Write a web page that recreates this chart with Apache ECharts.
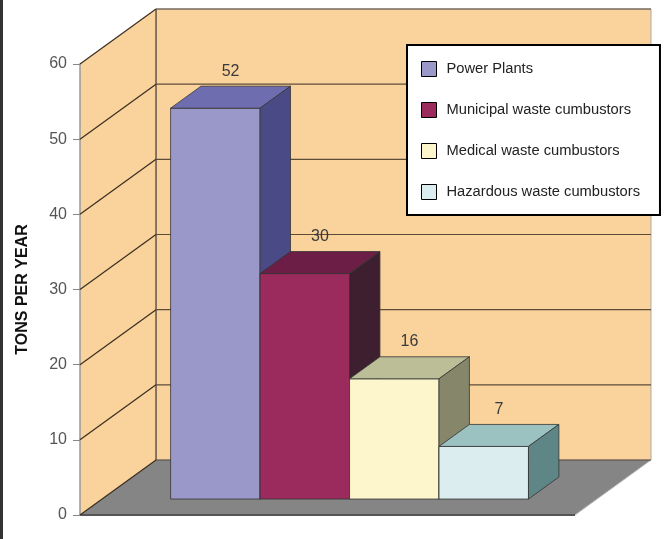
<!DOCTYPE html>
<html>
<head>
<meta charset="utf-8">
<script src="https://cdn.jsdelivr.net/npm/echarts@6/dist/echarts.min.js"></script>
<style>
  html, body { margin: 0; padding: 0; background: #fff; }
  #chart { width: 670px; height: 539px; }
</style>
</head>
<body>
<div id="chart"></div>
<script>
// data
const categories = ['Emissions'];
const seriesNames = ['Power Plants', 'Municipal waste cumbustors', 'Medical waste cumbustors', 'Hazardous waste cumbustors'];
const seriesValues = [52, 30, 16, 7];
const yTicks = [0, 10, 20, 30, 40, 50, 60];

const frontColors = ['#9a98c9', '#9b2a5d', '#fdf6cc', '#dcedf0'];
const topColors = ['#6e6db0', '#6c1e46', '#bcbe98', '#9cc1c1'];
const sideColors = ['#4a4a86', '#3d1f30', '#85866a', '#5f8686'];

// 3D box depth (px) and where the bars sit inside it
const DEPTH = [76, -55];
const BAR_FRONT = 0.29, BAR_BACK = 0.69;
const GROUP = 0.723;
const FONT = "'Liberation Sans', Arial, sans-serif";

const chart = echarts.init(document.getElementById('chart'), null, { renderer: 'canvas' });

// walls + floor
function frameItem(params, api) {
    const cs = params.coordSys;
    const y0 = api.coord([0, yTicks[0]])[1];
    const yTop = api.coord([0, yTicks[yTicks.length - 1]])[1];
    const [dx, dy] = DEPTH;
    const xl = cs.x, xr = cs.x + cs.width;
    return {
        type: 'group',
        children: [
            { type: 'polygon', shape: { points: [[xl + dx, yTop + dy], [xr + dx, yTop + dy], [xr + dx, y0 + dy], [xl + dx, y0 + dy]] },
              style: { fill: '#f9d29c', stroke: '#aaa', lineWidth: 1 } },
            { type: 'polygon', shape: { points: [[xl, y0], [xl, yTop], [xl + dx, yTop + dy], [xl + dx, y0 + dy]] },
              style: { fill: '#f9d29c', stroke: null } },
            { type: 'polygon', shape: { points: [[xl, y0], [xr, y0], [xr + dx, y0 + dy], [xl + dx, y0 + dy]] },
              style: { fill: '#858585', stroke: null } },
            { type: 'line', shape: { x1: xl, y1: y0, x2: xr, y2: y0 }, style: { stroke: '#555', lineWidth: 2 } },
            { type: 'line', shape: { x1: xr, y1: y0, x2: xr + dx, y2: y0 + dy }, style: { stroke: '#bbb', lineWidth: 1 } },
            { type: 'line', shape: { x1: xl + dx, y1: yTop + dy, x2: xl + dx, y2: y0 + dy }, style: { stroke: '#4a3c2c', lineWidth: 1.2 } }
        ]
    };
}

// grid lines on left and back walls
function gridItem(params, api) {
    const cs = params.coordSys;
    const y = api.coord([0, api.value(1)])[1];
    const [dx, dy] = DEPTH;
    const xl = cs.x, xr = cs.x + cs.width;
    return {
        type: 'group',
        children: [
            { type: 'line', shape: { x1: xl, y1: y, x2: xl + dx, y2: y + dy }, style: { stroke: '#3a2e20', lineWidth: 1.2 } },
            { type: 'line', shape: { x1: xl + dx, y1: y + dy, x2: xr + dx, y2: y + dy }, style: { stroke: '#5c4c38', lineWidth: 1.2 } }
        ]
    };
}

function barItem(i) {
    return function (params, api) {
        const band = api.size([1, 0])[0];
        const base = api.coord([api.value(0), 0]);
        const top = api.coord([api.value(0), api.value(1)])[1];
        const groupW = band * GROUP;
        const w = groupW / seriesValues.length;
        const fx = DEPTH[0] * BAR_FRONT, fy = DEPTH[1] * BAR_FRONT;
        const dx = DEPTH[0] * (BAR_BACK - BAR_FRONT), dy = DEPTH[1] * (BAR_BACK - BAR_FRONT);
        const x0 = base[0] - groupW / 2 + i * w + fx;
        const x1 = x0 + w;
        const yt = top + fy, yb = base[1] + fy;
        const edge = { stroke: '#333', lineWidth: 0.8 };
        return {
            type: 'group',
            children: [
                { type: 'rect', shape: { x: x0, y: yt, width: w, height: yb - yt }, style: Object.assign({ fill: frontColors[i] }, edge) },
                { type: 'polygon', shape: { points: [[x0, yt], [x1, yt], [x1 + dx, yt + dy], [x0 + dx, yt + dy]] }, style: Object.assign({ fill: topColors[i] }, edge) },
                { type: 'polygon', shape: { points: [[x1, yt], [x1, yb], [x1 + dx, yb + dy], [x1 + dx, yt + dy]] }, style: Object.assign({ fill: sideColors[i] }, edge) },
                { type: 'text', style: { x: x0 + w / 2 + dx / 2, y: yt + dy - 15, text: String(api.value(1)),
                    align: 'center', verticalAlign: 'middle', fill: '#3a3a3a', font: '16px Arial, sans-serif' } }
            ]
        };
    };
}

const series = [
    { type: 'custom', name: 'frame', silent: true, z: 0, renderItem: frameItem, data: [[0, 0]] },
    { type: 'custom', name: 'grid', silent: true, z: 1, renderItem: gridItem, data: yTicks.map(v => [0, v]) }
];
seriesNames.forEach((name, i) => {
    series.push({
        type: 'custom', name: name, z: 3 + i, renderItem: barItem(i),
        itemStyle: { color: frontColors[i] },
        data: [[0, seriesValues[i]]]
    });
});

chart.setOption({
    animation: false,
    backgroundColor: '#fff',
    grid: { left: 80, top: 64, width: 495, bottom: 24 },
    xAxis: { type: 'category', data: categories, show: false },
    yAxis: {
        type: 'value', min: 0, max: 60, interval: 10,
        name: 'TONS PER YEAR', nameLocation: 'middle', nameGap: 49, nameRotate: 90,
        nameTextStyle: { fontWeight: 'bold', fontSize: 16, color: '#111', fontFamily: 'Arial, sans-serif' },
        axisLine: { show: true, lineStyle: { color: '#999', width: 1.5 } },
        axisTick: { show: true, length: 7, lineStyle: { color: '#888' } },
        axisLabel: { color: '#555', fontSize: 16, margin: 13, fontFamily: 'Arial, sans-serif' },
        splitLine: { show: false }
    },
    legend: {
        data: seriesNames, orient: 'vertical', left: 407, top: 45,
        backgroundColor: '#fff', borderColor: '#000', borderWidth: 2,
        padding: [16, 20, 15, 14], itemGap: 25, itemWidth: 15, itemHeight: 15,
        icon: 'rect', itemStyle: { borderColor: '#000', borderWidth: 1 },
        textStyle: { fontSize: 14.7, lineHeight: 15, color: '#222', fontFamily: FONT, padding: [0, 0, 0, 5] }
    },
    graphic: [
        { type: 'rect', left: 0, top: 0, shape: { width: 3, height: 539 }, style: { fill: '#333' } }
    ],
    series: series
});
</script>
</body>
</html>
